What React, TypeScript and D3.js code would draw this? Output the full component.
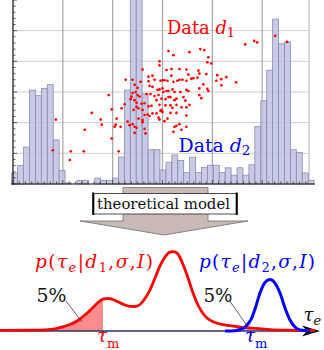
import React from 'react';
import * as d3 from 'd3';

// ---------- Histogram (counts per bin) ----------
const histCounts = [3, 5, 10, 25.5, 24, 26, 27, 12, 3.7, 0.3, 0, 1, 1, 0, 1.6, 1, 1, 1.6, 7.3, 25.5, 60, 60, 24.5, 9.3, 9.3, 3.8, 5.9, 7.9, 6.4, 3.1, 7.3, 3.1, 4.5, 5.1, 5.1, 3.1, 4.4, 2.4, 4.4, 2.4, 5.2, 15.6, 22.6, 30.9, 44.8, 38.1, 38.6, 9.3, 8.6, 3, 1];
const binStart = -1.3;
const binWidth = 5.95;

// ---------- Scatter "Data d1" ----------
const scatterX = [43, 40, 58, 57, 71, 72, 79, 88, 89, 96,
  156, 161, 177, 188, 192, 147, 147, 130, 154, 159, 167, 174, 186, 195,
  136, 140, 142, 148, 150, 152, 155, 159, 161, 165, 167, 170, 174, 179, 185, 176, 187, 194,
  113, 120, 128, 122, 125, 136, 137, 140, 145, 147, 150, 151, 154, 156, 160, 162, 168, 174, 176, 187, 195,
  120, 119, 123, 125, 127, 134, 138, 142, 146, 149, 153, 156, 158, 162, 164, 171, 173, 187, 189,
  99, 104, 103, 108, 109, 112, 118, 122, 124, 129, 132, 136, 139, 144, 147, 149, 153, 158, 160, 164, 169, 174, 177,
  121, 124, 126, 130, 132, 135, 137, 140, 144, 148, 150, 146, 147, 155, 152, 158, 164, 174, 167, 162,
  126, 130, 130, 115, 117, 120, 122, 124, 122, 132, 133, 99, 102, 106, 164, 169, 174, 161,
  196, 199, 205, 209, 214, 204, 209, 224, 233, 242, 245, 263, 275, 191, 181, 196];
const scatterY = [63, 33, 32, 23.5, 32, 53, 69.5, 63, 58, 87,
  130, 126, 129, 132, 131, 120, 116, 112, 111.5, 112.5, 112.5, 112, 111, 119,
  105, 106, 102, 101, 101.5, 101.5, 101, 106, 100, 101, 102, 102, 101, 103, 104, 107, 108, 107.5,
  102, 102, 100, 97, 94, 100.5, 96, 95, 92, 92.5, 93.5, 90, 91, 91, 92.5, 90, 90, 92, 91, 93.5, 93,
  89, 85.5, 90, 87, 85.5, 88, 88, 86, 87, 83.5, 83, 85, 85, 82, 83.5, 85, 81.5, 87, 84,
  73, 64, 58, 56, 74, 78, 83, 82, 79.5, 78.5, 79, 76, 76.5, 82, 77.5, 72.5, 77, 77, 74.5, 77.5, 75, 75, 77.5,
  72.5, 75.5, 74, 72.5, 67.5, 68, 66.5, 69, 69, 71.5, 70.5, 65, 63, 64, 61.5, 69.5, 69.5, 67, 58.5, 56,
  64, 62.5, 60.5, 61, 57.5, 58.5, 56, 55, 50, 54, 49.5, 44.5, 56, 32, 57, 53, 56, 51,
  124, 118, 106.5, 102.5, 104.5, 101, 96.5, 99.5, 136.5, 140, 138.5, 145, 139, 97.5, 103.5, 91];

// ---------- Posterior curves (tau_e, density) ----------
const redTau = [0, 1.5, 2.25, 2.75, 3.1, 3.5, 3.9, 4.25, 4.6, 4.9, 5.15, 5.4, 5.65, 5.9, 6.2, 6.5, 6.75, 7.0, 7.25, 7.5, 7.75, 8.0, 8.25, 8.5, 8.65, 8.85, 9.1, 9.35, 9.6, 9.85, 10.1, 10.35, 10.75, 11.25, 12.0, 12.75, 13.5, 14.5, 15.75];
const redDens = [0.009, 0.01, 0.015, 0.028, 0.05, 0.082, 0.132, 0.202, 0.284, 0.359, 0.401, 0.41, 0.397, 0.368, 0.334, 0.311, 0.309, 0.334, 0.41, 0.517, 0.668, 0.82, 0.933, 0.994, 1.0, 0.984, 0.87, 0.706, 0.517, 0.353, 0.24, 0.164, 0.107, 0.076, 0.05, 0.032, 0.018, 0.01, 0.006];
const blueTau = [11.25, 11.75, 12.0, 12.25, 12.5, 12.55, 12.75, 13.0, 13.25, 13.5, 13.75, 14.0, 14.25, 14.5, 14.75, 15.0, 15.5];
const blueDens = [0, 0.003, 0.019, 0.05, 0.126, 0.145, 0.277, 0.479, 0.612, 0.649, 0.605, 0.479, 0.29, 0.139, 0.05, 0.013, 0];
const tauM1 = 5.15;
const tauM2 = 12.55;

const SERIF = '"DejaVu Serif", "Liberation Serif", serif';
const serif = { fontFamily: SERIF };

function PLabel({ x, y, color, idx, width }: { x: number; y: number; color: string; idx: string; width: number }) {
  return (
    <text x={x} y={y} fill={color} style={serif} fontSize={18.5} textLength={width} lengthAdjust="spacing">
      <tspan fontStyle="italic">p</tspan>
      <tspan>(</tspan>
      <tspan fontStyle="italic">τ</tspan>
      <tspan fontStyle="italic" fontSize={13} dy={4}>e</tspan>
      <tspan dy={-4}>|</tspan>
      <tspan fontStyle="italic">d</tspan>
      <tspan fontSize={13} dy={4}>{idx}</tspan>
      <tspan dy={-4}>,</tspan>
      <tspan fontStyle="italic">σ</tspan>
      <tspan>,</tspan>
      <tspan fontStyle="italic">I</tspan>
      <tspan>)</tspan>
    </text>
  );
}

function TauM({ x, color }: { x: number; color: string }) {
  return (
    <text x={x} y={342} fill={color} style={serif} fontSize={18}>
      <tspan fontStyle="italic">τ</tspan>
      <tspan fontSize={13} dy={6}>m</tspan>
    </text>
  );
}

export default function App() {
  const W = 324, H = 350;
  // top panel scales
  const x = d3.scaleLinear().domain([0, 297]).range([13, 309]);
  const yCount = d3.scaleLinear().domain([0, 50]).range([184, 0]);
  const yScat = d3.scaleLinear().domain([0, 180]).range([184, 0]);
  const hGrid = d3.range(1, 6).map((i) => (i * 50) / 6);
  const vGrid = [50, 100, 150, 200, 250];
  const yMinor = d3.range(0, 31).map((i) => (i * 50) / 30);
  const xMinor = d3.range(0, 297, 6.25);

  // bottom panel scales
  const tx = d3.scaleLinear().domain([0, 16]).range([0, 320]);
  const dy = d3.scaleLinear().domain([0, 1]).range([331, 251.7]);
  const red = redTau.map((t, i) => [t, redDens[i]] as [number, number]);
  const blue = blueTau.map((t, i) => [t, blueDens[i]] as [number, number]);
  const line = d3.line<[number, number]>().x((d) => tx(d[0])).y((d) => dy(d[1])).curve(d3.curveMonotoneX);
  const area = d3.area<[number, number]>().x((d) => tx(d[0])).y0(dy(0)).y1((d) => dy(d[1])).curve(d3.curveMonotoneX);
  const redFill = red.filter((d) => d[0] <= tauM1);
  const blueFill = blue.filter((d) => d[0] <= tauM2);
  const axisY = dy(0);

  return (
    <svg width={W} height={H} style={{ position: 'absolute', left: 0, top: 0, background: '#fff' }}>
      {/* grid */}
      {hGrid.map((g) => (
        <line key={'h' + g} x1={x(0)} x2={x(297)} y1={yCount(g)} y2={yCount(g)} stroke="#cfcfcf" strokeWidth={1} />
      ))}
      {vGrid.map((g) => (
        <line key={'v' + g} x1={x(g)} x2={x(g)} y1={0} y2={184} stroke="#a5a5a5" strokeWidth={1.2} />
      ))}
      <line x1={x(297)} x2={x(297)} y1={0} y2={184} stroke="#b0b0b0" strokeWidth={1} />

      {/* histogram */}
      {histCounts.map((c, i) => {
        const x0 = x(binStart + i * binWidth);
        const x1 = x(binStart + (i + 1) * binWidth);
        if (c <= 0) return null;
        return (
          <rect key={'b' + i} x={x0} y={yCount(c)} width={x1 - x0} height={yCount(0) - yCount(c)}
            fill="rgb(188,190,224)" fillOpacity={0.82} stroke="#8a8cb2" strokeWidth={0.8} />
        );
      })}

      {/* axes */}
      <line x1={13} x2={13} y1={0} y2={184.5} stroke="#111" strokeWidth={1.2} />
      {yMinor.map((v, i) => (
        <line key={'ym' + i} x1={13} x2={i % 5 === 0 ? 17 : 15.5} y1={yCount(v)} y2={yCount(v)} stroke="#333" strokeWidth={0.8} />
      ))}
      <line x1={11} x2={x(297) + 6} y1={184} y2={184} stroke="#111" strokeWidth={1.2} />
      {xMinor.map((v, i) => (
        <line key={'xm' + i} x1={x(v)} x2={x(v)} y1={184} y2={i % 8 === 0 ? 180 : 181.5} stroke="#333" strokeWidth={0.8} />
      ))}

      {/* scatter */}
      {scatterX.map((sx, i) => (
        <circle key={'s' + i} cx={x(sx)} cy={yScat(scatterY[i])} r={1.35} fill="#ff0000" />
      ))}

      <text x={167} y={34.3} fill="#ff0000" style={serif} fontSize={18} textLength={68} lengthAdjust="spacingAndGlyphs">
        <tspan>Data </tspan>
        <tspan fontStyle="italic">d</tspan>
        <tspan fontSize={13} dy={3}>1</tspan>
      </text>
      <text x={178.5} y={151.7} fill="#0000ff" style={serif} fontSize={18} textLength={72} lengthAdjust="spacingAndGlyphs">
        <tspan>Data </tspan>
        <tspan fontStyle="italic">d</tspan>
        <tspan fontSize={13} dy={3}>2</tspan>
      </text>

      {/* arrow "theoretical model" */}
      <path d="M123,187.5 L208,187.5 L208,221 L248,221 L164,235 L80,221 L123,221 Z" fill="#c9bab7" stroke="#707070" strokeWidth={0.8} />
      <rect x={93} y={193.5} width={144} height={20.5} fill="#fff" stroke="#222" strokeWidth={0.8} />
      <line x1={93.3} x2={93.3} y1={192.5} y2={215} stroke="#000" strokeWidth={2} />
      <line x1={236.7} x2={236.7} y1={192.5} y2={215} stroke="#000" strokeWidth={2} />
      <text x={97} y={209} fill="#111" style={serif} fontSize={15} textLength={133} lengthAdjust="spacingAndGlyphs">theoretical model</text>

      {/* bottom panel */}
      <path d={area(redFill) || ''} fill="rgba(255,0,0,0.45)" />
      <path d={area(blueFill) || ''} fill="rgba(60,60,255,0.3)" />
      <line x1={0} x2={312} y1={axisY} y2={axisY} stroke="#2e2e70" strokeWidth={1.6} />
      <path d={`M320,${axisY} L302,${axisY - 5.5} L307,${axisY} L302,${axisY + 5.5} Z`} fill="#000" />
      <path d={line(red) || ''} fill="none" stroke="#ff0000" strokeWidth={2.8} />
      <path d={line(blue) || ''} fill="none" stroke="#0000ff" strokeWidth={3} />
      <line x1={tx(tauM1)} x2={tx(tauM1)} y1={axisY} y2={axisY + 5} stroke="#000" strokeWidth={0.9} />
      <line x1={tx(tauM2)} x2={tx(tauM2)} y1={axisY} y2={axisY + 5} stroke="#000" strokeWidth={0.9} />
      <TauM x={tx(tauM1) - 6} color="#ff0000" />
      <TauM x={tx(tauM2) - 6} color="#0000ff" />

      <PLabel x={35} y={268} color="#ff0000" idx="1" width={118} />
      <PLabel x={199} y={268} color="#0000ff" idx="2" width={116} />

      <text x={36.5} y={301.5} fill="#111" style={serif} fontSize={19} textLength={30} lengthAdjust="spacingAndGlyphs">5%</text>
      <text x={203.5} y={301.5} fill="#111" style={serif} fontSize={19} textLength={29} lengthAdjust="spacingAndGlyphs">5%</text>
      <line x1={66} x2={82} y1={301} y2={322} stroke="#222" strokeWidth={0.7} />
      <line x1={229} x2={248} y1={300} y2={327} stroke="#222" strokeWidth={0.7} />

      <text x={303.5} y={321} fill="#111" style={serif} fontSize={18}>
        <tspan fontStyle="italic">τ</tspan>
        <tspan fontStyle="italic" fontSize={13} dy={4}>e</tspan>
      </text>
    </svg>
  );
}
